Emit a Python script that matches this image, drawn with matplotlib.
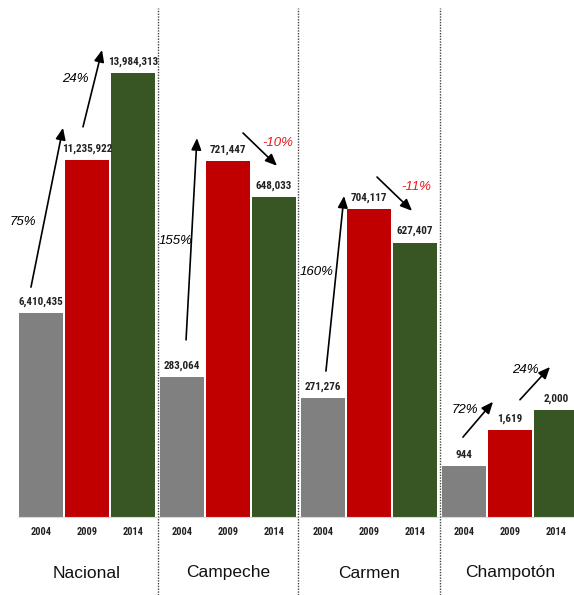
import matplotlib
matplotlib.use('Agg')
import matplotlib.pyplot as plt
from matplotlib.lines import Line2D

# datos
years = ['2004', '2009', '2014']
groups = ['Nacional', 'Campeche', 'Carmen', 'Champotón']
nacional = [6410435, 11235922, 13984313]
campeche = [283064, 721447, 648033]
carmen = [271276, 704117, 627407]
champoton = [944, 1619, 2000]
values = [nacional, campeche, carmen, champoton]

# variaciones porcentuales (texto, color)
pct_nacional = [('75%', 'k'), ('24%', 'k')]
pct_campeche = [('155%', 'k'), ('-10%', '#E31A1C')]
pct_carmen = [('160%', 'k'), ('-11%', '#E31A1C')]
pct_champoton = [('72%', 'k'), ('24%', 'k')]
pcts = [pct_nacional, pct_campeche, pct_carmen, pct_champoton]

colors = ['#808080', '#C00000', '#375623']
ymax = [16.126e6, 1.0376e6, 1.1705e6, 9570]

# flechas en fraccion de ejes: (cola, punta, posicion texto)
arrows = [
    [((0.094, 0.449), (0.326, 0.760), (0.036, 0.576)),
     ((0.471, 0.762), (0.609, 0.912), (0.413, 0.855))],
    [((0.196, 0.346), (0.275, 0.740), (0.123, 0.539)),
     ((0.609, 0.750), (0.855, 0.686), (0.862, 0.730))],
    [((0.188, 0.285), (0.319, 0.627), (0.123, 0.479)),
     ((0.558, 0.664), (0.812, 0.598), (0.841, 0.645))],
    [((0.159, 0.156), (0.377, 0.225), (0.174, 0.209)),
     ((0.572, 0.229), (0.790, 0.293), (0.609, 0.287))],
]

narrow = ['Roboto Condensed', 'DejaVu Sans']
W, H = 574, 595
fig = plt.figure(figsize=(W / 100, H / 100), dpi=100)

for i, (name, vals) in enumerate(zip(groups, values)):
    left = 18 + 141 * i
    ax = fig.add_axes([left / W, (H - 517) / H, 138 / W, 512 / H])
    bars = ax.bar(range(3), vals, width=0.956, color=colors)
    ax.set_xlim(-0.5, 2.5)
    ax.set_ylim(0, ymax[i])
    ax.set_yticks([])
    ax.set_xticks(range(3))
    ax.set_xticklabels(years, family=narrow, fontweight='bold', fontsize=7.5, color='#222222')
    ax.tick_params(axis='x', length=0, pad=7)
    for s in ['top', 'left', 'right']:
        ax.spines[s].set_visible(False)
    ax.spines['bottom'].set_color('#D9D9D9')
    ax.patch.set_alpha(0)
    for b, v in zip(bars, vals):
        ax.annotate(f'{v:,}', (b.get_x() + b.get_width() / 2, v), xytext=(0, 4.5),
                    textcoords='offset points', ha='center', va='bottom',
                    family=narrow, fontweight='bold', fontsize=8, color='#222222')
    ax.text(0.5, -(573 - 517) / 512, name, transform=ax.transAxes, ha='center',
            va='center', fontsize=12.5, family='Liberation Sans', color='#111111')
    for (tail, tip, tpos), (txt, c) in zip(arrows[i], pcts[i]):
        ax.annotate('', xy=tip, xytext=tail, xycoords='axes fraction',
                    textcoords='axes fraction', annotation_clip=False,
                    arrowprops=dict(arrowstyle='-|>,head_length=0.7,head_width=0.3',
                                    color='black', lw=1.2, shrinkA=0, shrinkB=0))
        ax.text(tpos[0], tpos[1], txt, transform=ax.transAxes, ha='center', va='center',
                fontsize=9.5, style='italic', family='Liberation Sans', color=c,
                clip_on=False)

# separadores punteados
for x in [158, 298, 440]:
    fig.add_artist(Line2D([x / W, x / W], [0, 1 - 8 / H], transform=fig.transFigure,
                          color='#444444', lw=1.0, linestyle=(0, (1, 1))))

fig.savefig('out.png', dpi=100)
